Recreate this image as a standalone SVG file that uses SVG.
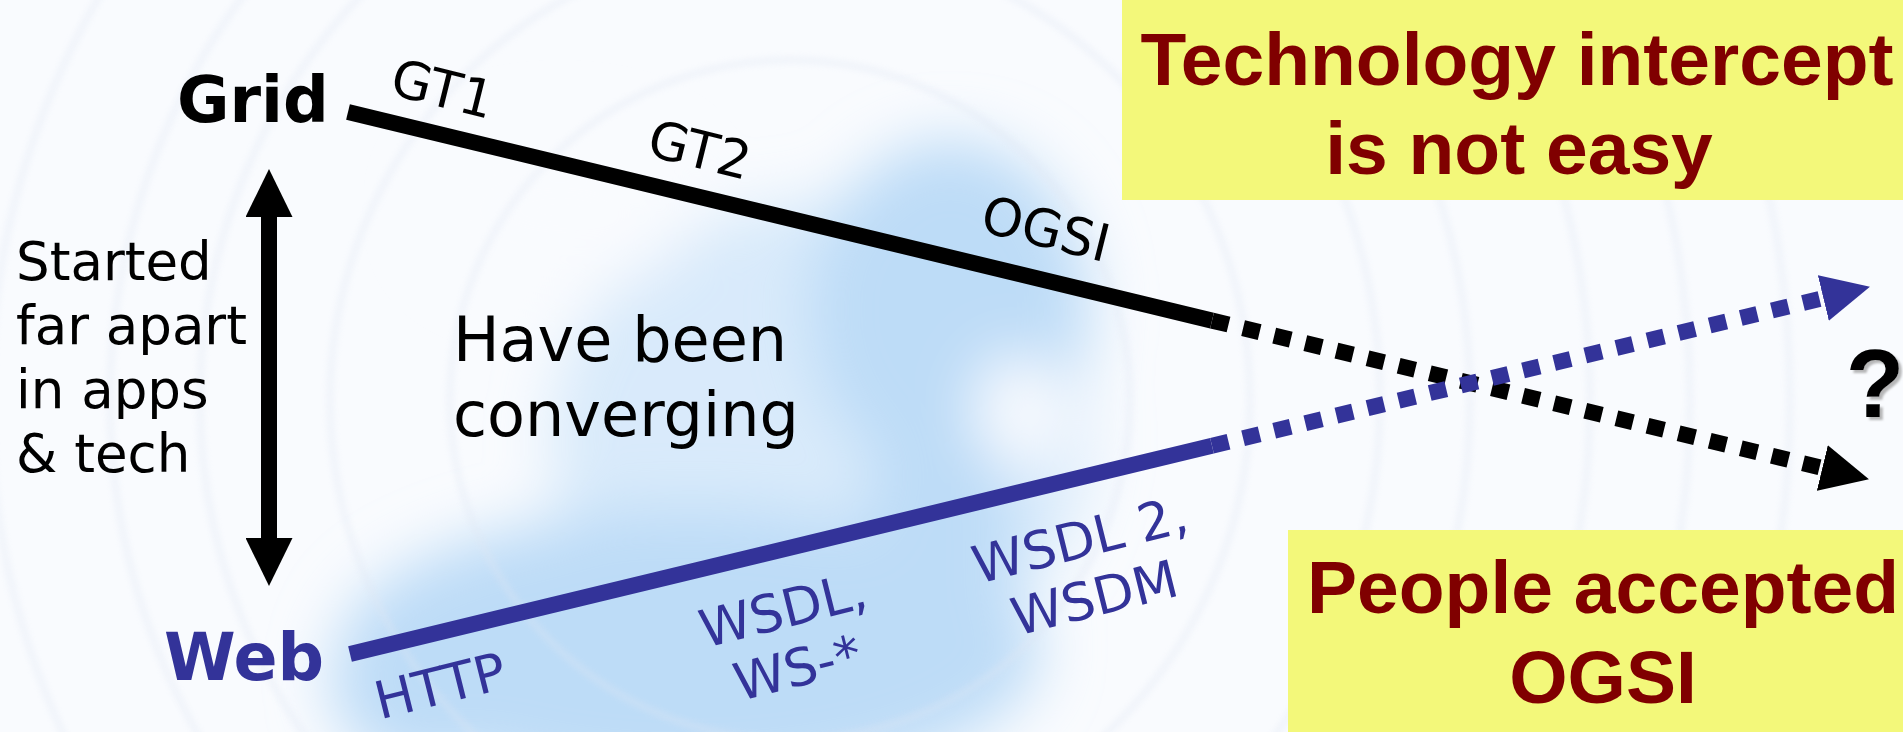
<svg xmlns="http://www.w3.org/2000/svg" width="1903" height="732" viewBox="0 0 1903 732">
<style>
.lbl{font-family:"DejaVu Sans","Verdana",sans-serif;font-size:52px;}
.blk{fill:#000;}
.blu{fill:#333399;}
.big{font-family:"Liberation Sans","Arial",sans-serif;font-weight:bold;font-size:75px;fill:#800000;text-anchor:middle;}
.box{fill:#f3f87a;}
.ln{fill:none;stroke-width:16;stroke-linecap:butt;}
.dot{stroke-dasharray:17 15;}
</style>
<defs>
<filter id="blur" x="-50%" y="-50%" width="200%" height="200%"><feGaussianBlur stdDeviation="30"/></filter>
<filter id="soft" x="-10%" y="-10%" width="120%" height="120%"><feGaussianBlur stdDeviation="3"/></filter>
<filter id="shadow" x="-30%" y="-30%" width="160%" height="160%"><feDropShadow dx="3" dy="3" stdDeviation="1" flood-color="#999" flood-opacity="0.7"/></filter>
<marker id="ahBlack" markerUnits="userSpaceOnUse" markerWidth="48" markerHeight="47" viewBox="0 0 47 46" refX="0" refY="23" orient="auto-start-reverse"><path d="M0,0 L47,23 L0,46 Z" fill="#000"/></marker>
<marker id="ahBlue" markerUnits="userSpaceOnUse" markerWidth="48" markerHeight="47" viewBox="0 0 47 46" refX="0" refY="23" orient="auto"><path d="M0,0 L47,23 L0,46 Z" fill="#333399"/></marker>
</defs>

<g id="background">
<rect x="0" y="0" width="1903" height="732" fill="#f9fbfe"/>
<g filter="url(#blur)" fill="#bddcf7">
<ellipse cx="820" cy="440" rx="270" ry="240" opacity="0.55"/>
<ellipse cx="950" cy="310" rx="140" ry="170"/>
<ellipse cx="690" cy="650" rx="350" ry="140"/>
<ellipse cx="940" cy="540" rx="75" ry="130"/>
<ellipse cx="430" cy="680" rx="100" ry="90"/>
<ellipse cx="1020" cy="410" rx="45" ry="55" fill="#f9fbfe"/>
<ellipse cx="560" cy="210" rx="130" ry="80" fill="#f9fbfe"/>
</g>
<g filter="url(#soft)" fill="none" stroke="#dfe6f3" stroke-width="7" opacity="0.35">
<circle cx="790" cy="400" r="340"/>
<circle cx="790" cy="400" r="460"/>
<circle cx="790" cy="400" r="590"/>
<circle cx="790" cy="400" r="680"/>
<circle cx="790" cy="400" r="800"/>
<circle cx="790" cy="400" r="900"/>
<circle cx="790" cy="400" r="1000"/>
</g>
</g>

<g id="connectors">
<path id="grid-solid" class="ln" stroke="#000" d="M348,112 L1212,320.6"/>
<path id="grid-dotted" class="ln dot" stroke="#000" d="M1212,320.6 L1822.3,468" marker-end="url(#ahBlack)"/>
<path id="web-solid" class="ln" stroke="#333399" d="M350,654 L1212,445.7"/>
<path id="web-dotted" class="ln dot" stroke="#333399" d="M1212,445.7 L1823.3,298" marker-end="url(#ahBlue)"/>
<path id="apart-arrow" class="ln" stroke="#000" d="M269,217 L269,538" marker-start="url(#ahBlack)" marker-end="url(#ahBlack)"/>
</g>

<g id="node-grid">
<text x="177" y="122" font-family="DejaVu Sans, Verdana, sans-serif" font-weight="bold" font-size="64" fill="#000">Grid</text>
</g>
<g id="node-web">
<text x="164" y="680" font-family="DejaVu Sans, Verdana, sans-serif" font-weight="bold" font-size="65" fill="#333399">Web</text>
</g>

<g id="label-started">
<text class="lbl blk" style="font-size:53px">
<tspan x="16" y="280">Started</tspan>
<tspan x="16" y="344">far apart</tspan>
<tspan x="16" y="408">in apps</tspan>
<tspan x="16" y="472">&amp; tech</tspan>
</text>
</g>

<g id="label-converging">
<text class="lbl blk" style="font-size:62px">
<tspan x="453" y="361">Have been</tspan>
<tspan x="453" y="436">converging</tspan>
</text>
</g>

<g id="grid-labels" class="blk">
<text class="lbl" text-anchor="middle" transform="translate(443,88) rotate(14)" y="19">GT1</text>
<text class="lbl" text-anchor="middle" transform="translate(700,149) rotate(14)" y="19">GT2</text>
<text class="lbl" text-anchor="middle" transform="translate(1046,228) rotate(14)" y="19">OGSI</text>
</g>

<g id="web-labels" class="blu">
<text class="lbl" text-anchor="middle" transform="translate(440,685) rotate(-14)" y="19">HTTP</text>
<text class="lbl" text-anchor="middle" transform="translate(790,638) rotate(-14)"><tspan x="0" y="-11">WSDL,</tspan><tspan x="0" y="49">WS-*</tspan></text>
<text class="lbl" text-anchor="middle" transform="translate(1087,568) rotate(-14)"><tspan x="0" y="-11">WSDL 2,</tspan><tspan x="0" y="49">WSDM</tspan></text>
</g>

<g id="node-question">
<text x="1875" y="417" text-anchor="middle" font-family="Liberation Sans, Arial, sans-serif" font-weight="bold" font-size="96" fill="#000" filter="url(#shadow)">?</text>
</g>

<g id="box-intercept">
<rect class="box" x="1122" y="0" width="781" height="200"/>
<text class="big"><tspan x="1517" y="85">Technology intercept</tspan><tspan x="1519" y="174">is not easy</tspan></text>
</g>

<g id="box-accepted">
<rect class="box" x="1288" y="530" width="615" height="202"/>
<text class="big"><tspan x="1603" y="613">People accepted</tspan><tspan x="1603" y="703">OGSI</tspan></text>
</g>
</svg>
